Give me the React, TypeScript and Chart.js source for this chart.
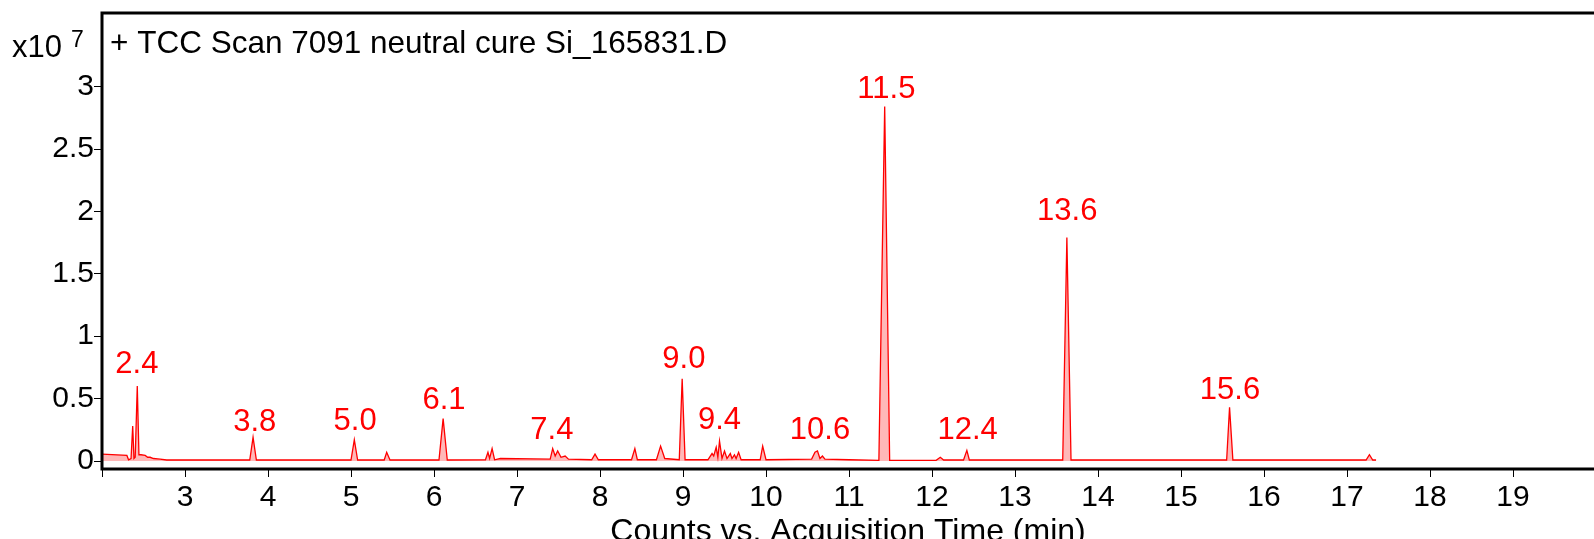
import React, { useEffect, useRef } from "react";
import { Chart, registerables } from "chart.js";

Chart.register(...registerables);

// Retention time (min) and abundance (counts x 10^7) of the TCC trace
const times = [
  2.0, 2.3, 2.32, 2.35, 2.37, 2.385, 2.4, 2.425, 2.445, 2.47, 2.52, 2.55, 2.58, 2.62, 2.7, 2.78,
  3.78, 3.82, 3.86,
  5.0, 5.04, 5.08, 5.4, 5.43, 5.47,
  6.06, 6.11, 6.16, 6.62, 6.65, 6.67, 6.7, 6.73, 6.8,
  7.4, 7.43, 7.46, 7.49, 7.53, 7.58, 7.62, 7.9, 7.94, 7.98,
  8.38, 8.42, 8.45, 8.68, 8.73, 8.78, 8.955, 8.99, 9.025,
  9.3, 9.35, 9.37, 9.4, 9.42, 9.44, 9.47, 9.5, 9.53, 9.57, 9.59, 9.62, 9.64, 9.67, 9.7,
  9.93, 9.96, 10.0,
  10.55, 10.59, 10.62, 10.65, 10.68, 10.71, 11.0, 11.36, 11.43, 11.49,
  12.05, 12.1, 12.14, 12.38, 12.42, 12.45,
  13.575, 13.625, 13.675,
  15.55, 15.585, 15.625,
  17.23, 17.27, 17.31, 17.35,
];
const counts = [
  0.055, 0.045, 0.01, 0.02, 0.28, 0.02, 0.03, 0.6, 0.05, 0.05, 0.045, 0.03, 0.03, 0.02, 0.015, 0.008,
  0.008, 0.19, 0.008,
  0.008, 0.17, 0.008, 0.008, 0.07, 0.008,
  0.008, 0.34, 0.008, 0.01, 0.07, 0.02, 0.1, 0.01, 0.02,
  0.015, 0.1, 0.04, 0.08, 0.03, 0.04, 0.015, 0.01, 0.055, 0.01,
  0.01, 0.1, 0.01, 0.01, 0.12, 0.02, 0.01, 0.66, 0.01,
  0.01, 0.06, 0.04, 0.11, 0.03, 0.16, 0.02, 0.08, 0.02, 0.06, 0.02, 0.05, 0.02, 0.07, 0.01,
  0.01, 0.12, 0.01,
  0.015, 0.07, 0.08, 0.02, 0.04, 0.015, 0.01, 0.005, 2.84, 0.005,
  0.005, 0.03, 0.008, 0.008, 0.085, 0.008,
  0.008, 1.79, 0.008,
  0.008, 0.43, 0.008,
  0.008, 0.05, 0.008, 0.008,
];

// Peak annotations
const peakTexts = ["2.4", "3.8", "5.0", "6.1", "7.4", "9.0", "9.4", "10.6", "11.5", "12.4", "13.6", "15.6"];
const peakLabelTimes = [2.42, 3.84, 5.05, 6.12, 7.42, 9.01, 9.44, 10.65, 11.45, 12.43, 13.63, 15.59];
const peakLabelValues = [0.774, 0.31, 0.318, 0.489, 0.244, 0.815, 0.326, 0.244, 2.98, 0.244, 1.998, 0.562];

// Axis ticks
const xTickValues = [2, 3, 4, 5, 6, 7, 8, 9, 10, 11, 12, 13, 14, 15, 16, 17, 18, 19];
const yTickValues = [0, 0.5, 1, 1.5, 2, 2.5, 3];

const traceTitle = "+ TCC Scan 7091 neutral cure Si_165831.D";
const xAxisTitle = "Counts vs. Acquisition Time (min)";
const yScaleBase = "x10";
const yScaleExp = "7";

const FONT = "'Liberation Sans', Arial, sans-serif";

const W = 1594;
const H = 539;

export default function App() {
  const ref = useRef<HTMLCanvasElement | null>(null);

  useEffect(() => {
    const canvas = ref.current;
    if (!canvas) return;

    const overlay = {
      id: "overlay",
      afterDraw(chart: any) {
        const { ctx, chartArea } = chart;
        const xs = chart.scales.x;
        const ys = chart.scales.y;
        ctx.save();
        // frame
        ctx.strokeStyle = "#000";
        ctx.lineWidth = 3;
        ctx.beginPath();
        ctx.moveTo(W, chartArea.top);
        ctx.lineTo(chartArea.left, chartArea.top);
        ctx.lineTo(chartArea.left, chartArea.bottom);
        ctx.lineTo(W, chartArea.bottom);
        ctx.stroke();

        // peak labels
        ctx.fillStyle = "#ff0000";
        ctx.font = `31px ${FONT}`;
        ctx.textAlign = "center";
        ctx.textBaseline = "middle";
        peakTexts.forEach((t, i) => {
          ctx.fillText(t, xs.getPixelForValue(peakLabelTimes[i]), ys.getPixelForValue(peakLabelValues[i]));
        });

        // trace title
        ctx.fillStyle = "#000";
        ctx.textAlign = "left";
        ctx.textBaseline = "alphabetic";
        ctx.font = `31.5px ${FONT}`;
        ctx.fillText(traceTitle, chartArea.left + 8, 53);

        // y scale multiplier
        ctx.font = `31px ${FONT}`;
        ctx.fillText(yScaleBase, 12, 57);
        ctx.font = `23px ${FONT}`;
        ctx.fillText(yScaleExp, 71, 47);

        // x axis title
        ctx.font = `32px ${FONT}`;
        ctx.textAlign = "center";
        ctx.fillText(xAxisTitle, (chartArea.left + chartArea.right) / 2, 541);
        ctx.restore();
      },
    };

    const chart = new Chart(canvas, {
      type: "line",
      data: {
        datasets: [
          {
            data: times.map((t, i) => ({ x: t, y: counts[i] })),
            borderColor: "#ff0000",
            borderWidth: 1.3,
            backgroundColor: "rgba(255,0,0,0.28)",
            fill: "origin",
            pointRadius: 0,
            tension: 0,
          },
        ],
      },
      options: {
        responsive: false,
        animation: false,
        devicePixelRatio: 1,
        layout: { padding: { top: 13, left: 0, right: 0, bottom: 0 } },
        plugins: { legend: { display: false }, tooltip: { enabled: false }, title: { display: false } },
        scales: {
          x: {
            type: "linear",
            min: 2,
            max: 2 + (W - 102) / 83,
            afterBuildTicks: (s: any) => {
              s.ticks = xTickValues.map((v) => ({ value: v }));
            },
            afterFit: (s: any) => {
              s.height = H - 469;
              s.paddingLeft = 0;
              s.paddingRight = 0;
            },
            ticks: {
              autoSkip: false,
              maxRotation: 0,
              color: "#000",
              font: { family: FONT, size: 30 },
              padding: 3,
              callback: (v: any) => (v >= 3 ? String(v) : ""),
            },
            grid: { drawOnChartArea: false, drawTicks: true, tickLength: 8, color: "#000", lineWidth: 1 },
            border: { display: false },
          },
          y: {
            type: "linear",
            min: -0.064,
            max: 3.59,
            afterBuildTicks: (s: any) => {
              s.ticks = yTickValues.map((v) => ({ value: v }));
            },
            afterFit: (s: any) => {
              s.width = 102;
              s.paddingTop = 0;
              s.paddingBottom = 0;
            },
            ticks: {
              color: "#000",
              font: { family: FONT, size: 30 },
              padding: 0,
              callback: (v: any) => String(v),
            },
            grid: { drawOnChartArea: false, drawTicks: true, tickLength: 8, color: "#000", lineWidth: 1 },
            border: { display: false },
          },
        },
      },
      plugins: [overlay],
    });
    return () => chart.destroy();
  }, []);

  return (
    <div style={{ position: "fixed", left: 0, top: 0, width: W, height: H, background: "#fff" }}>
      <canvas ref={ref} width={W} height={H} style={{ display: "block", width: W, height: H }} />
    </div>
  );
}
